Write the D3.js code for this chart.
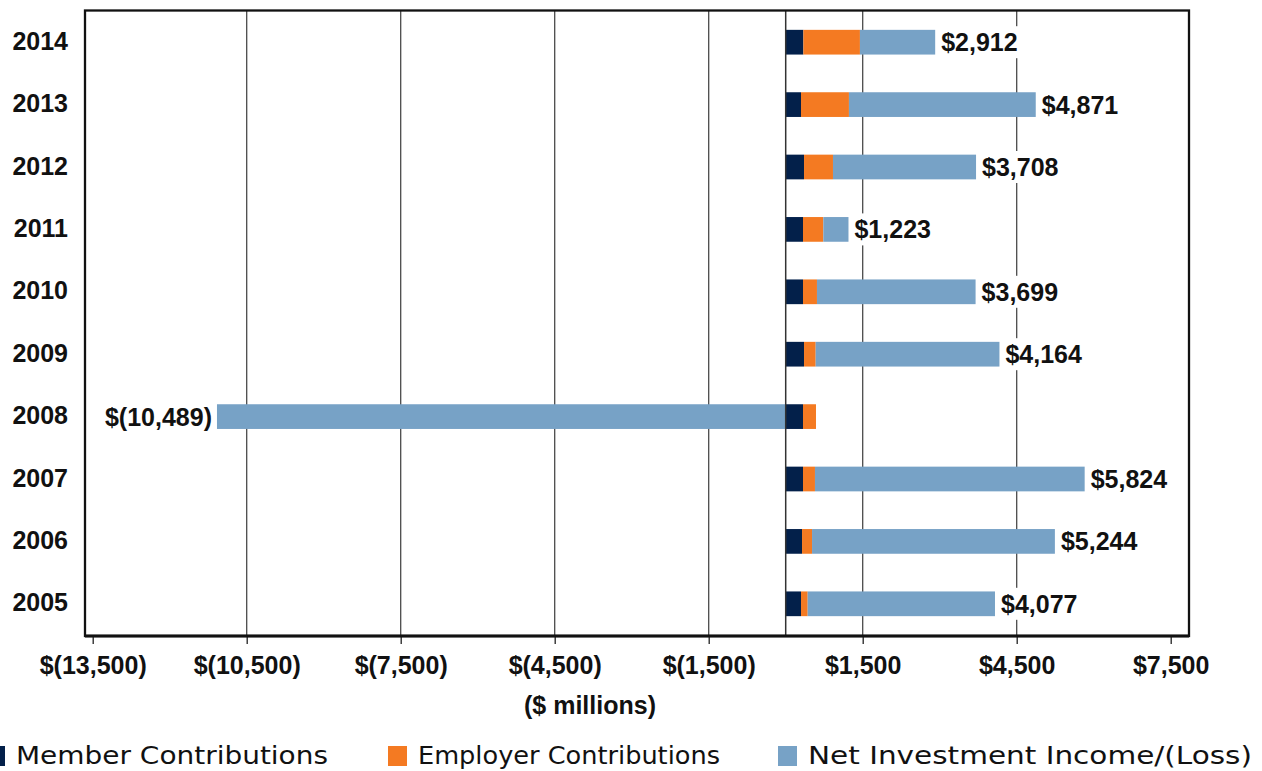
<!DOCTYPE html>
<html>
<head>
<meta charset="utf-8">
<script src="https://cdn.jsdelivr.net/npm/d3@7"></script>
<style>
  html, body { margin: 0; padding: 0; background: #fff; }
  svg { display: block; }
</style>
</head>
<body>
<svg id="chart" width="1262" height="771"></svg>
<script>
// Fiscal years, top to bottom
const years = [2014, 2013, 2012, 2011, 2010, 2009, 2008, 2007, 2006, 2005];
// Additions to plan net position, $ millions
const memberContributions   = [344, 298, 357, 337, 337, 357, 337, 337, 318, 298];
const employerContributions = [1102, 934, 564, 396, 272, 227, 253, 233, 195, 130];
const netInvestmentIncome   = [1466, 3639, 2787, 490, 3090, 3580, -11079, 5254, 4731, 3649];
// Value axis ticks
const tickValues = [-13500, -10500, -7500, -4500, -1500, 1500, 4500, 7500];
const seriesNames = ["Member Contributions", "Employer Contributions", "Net Investment Income/(Loss)"];
const seriesKeys = ["member", "employer", "net"];
const seriesColors = ["#03204a", "#f47a22", "#77a2c6"];

const rows = years.map((y, i) => ({
  year: y,
  member: memberContributions[i],
  employer: employerContributions[i],
  net: netInvestmentIncome[i]
}));

const svg = d3.select("#chart");
const boldFont = "'Liberation Sans', Arial, sans-serif";

const plot = { left: 85, right: 1189, top: 10.5, bottom: 636 };

const x = d3.scaleLinear().domain([-13500, 7500]).range([92.7, 1170.7]);
const y = d3.scaleBand()
  .domain(years)
  .range([11, 635])
  .paddingInner(0.604)
  .paddingOuter(0.302);

const fmtNum = d3.format(",");
const money = v => v < 0 ? "$(" + fmtNum(-v) + ")" : "$" + fmtNum(v);

// Vertical gridlines at interior ticks
svg.append("g")
  .selectAll("line")
  .data(tickValues.slice(1, -1))
  .join("line")
  .attr("x1", d => x(d)).attr("x2", d => x(d))
  .attr("y1", plot.top).attr("y2", plot.bottom)
  .attr("stroke", "#4a4a4a")
  .attr("stroke-width", 1.3);

// Stacked bars
const stack = d3.stack().keys(seriesKeys).offset(d3.stackOffsetDiverging);
const layers = stack(rows);

svg.append("g")
  .selectAll("g")
  .data(layers)
  .join("g")
  .attr("fill", (d, i) => seriesColors[i])
  .selectAll("rect")
  .data(d => d)
  .join("rect")
  .attr("x", d => x(Math.min(d[0], d[1])))
  .attr("width", d => Math.abs(x(d[1]) - x(d[0])))
  .attr("y", d => y(d.data.year))
  .attr("height", y.bandwidth());

// Category axis line crossing at zero
svg.append("line")
  .attr("x1", x(0)).attr("x2", x(0))
  .attr("y1", plot.top).attr("y2", plot.bottom)
  .attr("stroke", "#333")
  .attr("stroke-width", 1.5);

// Plot frame
svg.append("rect")
  .attr("x", plot.left).attr("y", plot.top)
  .attr("width", plot.right - plot.left)
  .attr("height", plot.bottom - plot.top)
  .attr("fill", "none")
  .attr("stroke", "#111")
  .attr("stroke-width", 2.3);

// Value axis
const xAxis = d3.axisBottom(x)
  .tickValues(tickValues)
  .tickSize(8)
  .tickSizeOuter(0)
  .tickFormat(money);

const gx = svg.append("g")
  .attr("transform", `translate(0,${plot.bottom})`)
  .call(xAxis);
gx.select(".domain").remove();
gx.selectAll(".tick line").attr("stroke", "#222").attr("stroke-width", 1.3);
gx.selectAll(".tick text")
  .attr("y", 38)
  .attr("dy", 0)
  .attr("fill", "#111")
  .style("font-family", boldFont)
  .style("font-weight", "bold")
  .style("font-size", "25px");
svg.append("line")
  .attr("x1", plot.left).attr("x2", plot.right)
  .attr("y1", plot.bottom).attr("y2", plot.bottom)
  .attr("stroke", "#111")
  .attr("stroke-width", 3);

// Axis title
svg.append("text")
  .attr("x", 590).attr("y", 714)
  .attr("text-anchor", "middle")
  .attr("fill", "#111")
  .style("font-family", boldFont)
  .style("font-weight", "bold")
  .style("font-size", "25px")
  .text("($ millions)");

// Year labels
svg.append("g")
  .selectAll("text")
  .data(years)
  .join("text")
  .attr("x", 68)
  .attr("y", d => y(d) + y.bandwidth() / 2)
  .attr("dy", "0.3em")
  .attr("text-anchor", "end")
  .attr("fill", "#111")
  .style("font-family", boldFont)
  .style("font-weight", "bold")
  .style("font-size", "25px")
  .text(d => d);

// Total labels at the end of each bar, on a white box
const totals = rows.map(r => ({ year: r.year, total: r.member + r.employer + r.net,
  lo: Math.min(0, r.net), hi: Math.max(0, r.member) + Math.max(0, r.employer) + Math.max(0, r.net) }));

const labelG = svg.append("g");
totals.forEach(t => {
  const g = labelG.append("g");
  const neg = t.total < 0;
  const txt = g.append("text")
    .attr("x", neg ? x(t.lo) - 5 : x(t.hi) + 6)
    .attr("y", y(t.year) + y.bandwidth() / 2)
    .attr("dy", "0.36em")
    .attr("text-anchor", neg ? "end" : "start")
    .attr("fill", "#111")
    .style("font-family", boldFont)
    .style("font-weight", "bold")
    .style("font-size", "25px")
    .text(money(t.total));
  const bb = txt.node().getBBox();
  g.insert("rect", "text")
    .attr("x", bb.x - 2).attr("y", bb.y - 2)
    .attr("width", bb.width + 4).attr("height", bb.height + 4)
    .attr("fill", "#fff");
});

// Legend
const legendX = [-14, 388, 778];
const legendW = [312, 302, 444];
const legend = svg.append("g")
  .selectAll("g")
  .data(seriesNames)
  .join("g");
legend.append("rect")
  .attr("x", (d, i) => legendX[i])
  .attr("y", 746)
  .attr("width", 19).attr("height", 20)
  .attr("fill", (d, i) => seriesColors[i]);
legend.append("text")
  .attr("x", (d, i) => legendX[i] + 30)
  .attr("y", 764)
  .attr("textLength", (d, i) => legendW[i])
  .attr("lengthAdjust", "spacingAndGlyphs")
  .attr("fill", "#111")
  .style("font-family", "'DejaVu Sans', Verdana, sans-serif")
  .style("font-size", "25px")
  .text(d => d);
</script>
</body>
</html>
